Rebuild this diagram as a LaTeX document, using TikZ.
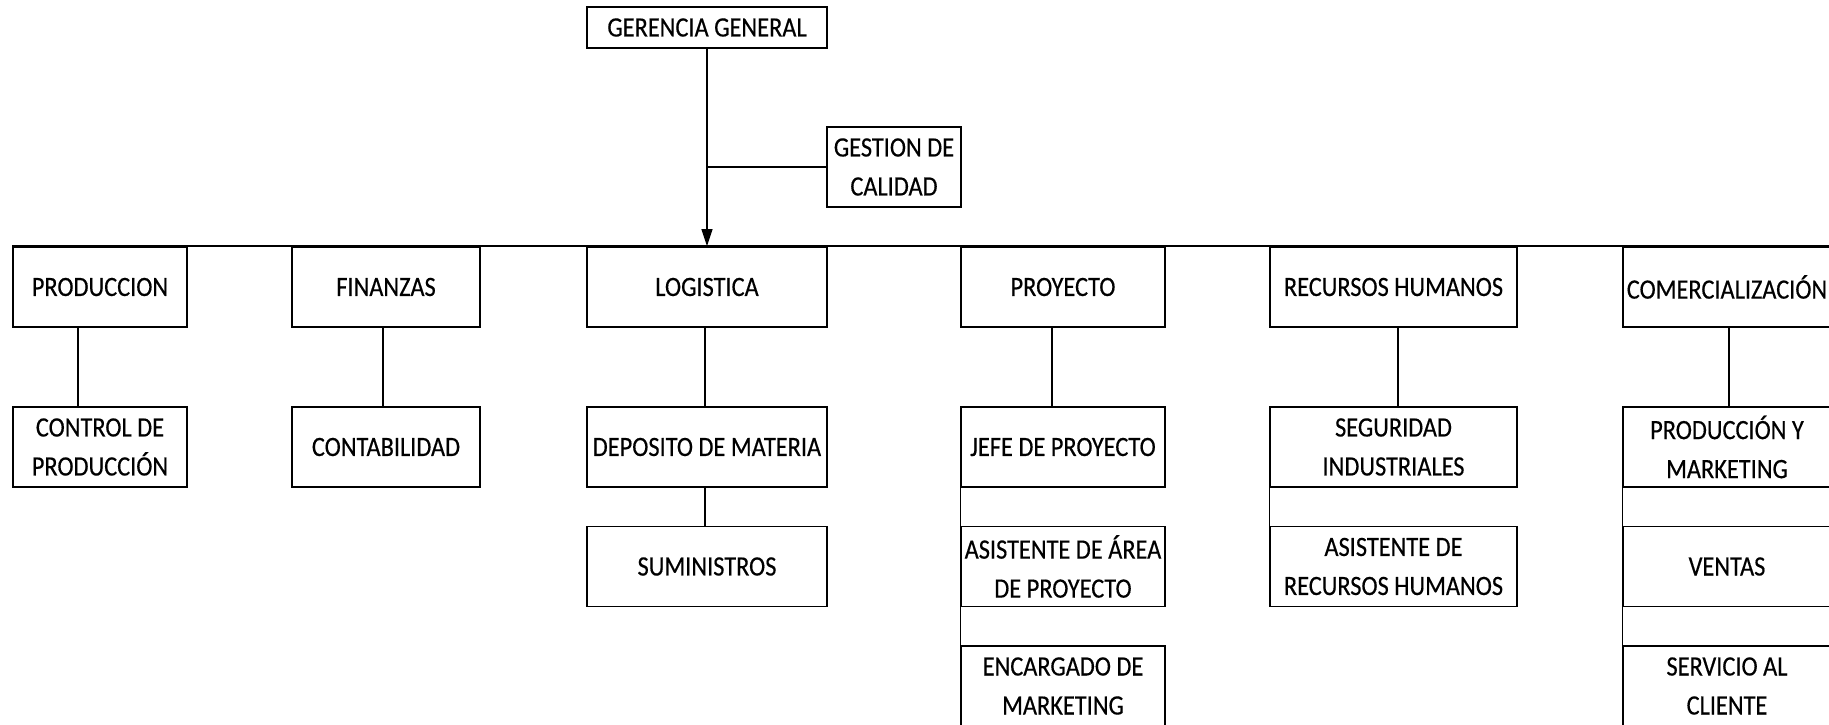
\documentclass[tikz,border=0pt]{standalone}
\usepackage{fontspec}
\setmainfont[FakeStretch=0.87,FakeBold=0.4]{Carlito}
\usetikzlibrary{arrows.meta}
\tikzset{
  orgbox/.style={draw=black, line width=1.6pt, inner sep=0pt, align=center,
    minimum height=80pt, font=\fontsize{28}{39}\selectfont},
  conn/.style={draw=black, line width=1.2pt},
  topline/.style={draw=black, line width=1.8pt},
}
\begin{document}
\begin{tikzpicture}[x=1pt,y=-1pt]
\useasboundingbox (0,0) rectangle (1829,724);
\fill[white] (0,0) rectangle (1829,724);
\clip (0,0) rectangle (1829,724);
% top
\node[orgbox, minimum width=240pt, minimum height=41pt] (ger) at (707,27.5) {GERENCIA GENERAL};
\node[orgbox, minimum width=134pt] (gest) at (894,167) {GESTION DE\\CALIDAD};
% level 1
\node[orgbox, minimum width=174pt] (prod) at (100,287) {PRODUCCION};
\node[orgbox, minimum width=188pt] (fin) at (386,287) {FINANZAS};
\node[orgbox, minimum width=240pt] (log) at (707,287) {LOGISTICA};
\node[orgbox, minimum width=204pt] (proy) at (1063,287) {PROYECTO};
\node[orgbox, minimum width=247pt] (rrhh) at (1393.5,287) {RECURSOS HUMANOS};
\node[orgbox, minimum width=208pt] (com) at (1727,287) {COMERCIALIZACIÓN};
% level 2
\node[orgbox, minimum width=174pt] (ctrl) at (100,447) {CONTROL DE\\PRODUCCIÓN};
\node[orgbox, minimum width=188pt] (cont) at (386,447) {CONTABILIDAD};
\node[orgbox, minimum width=240pt] (dep) at (707,447) {DEPOSITO DE MATERIA};
\node[orgbox, minimum width=204pt] (jefe) at (1063,447) {JEFE DE PROYECTO};
\node[orgbox, minimum width=247pt] (seg) at (1393.5,447) {SEGURIDAD\\INDUSTRIALES};
\node[orgbox, minimum width=208pt] (pym) at (1727,447) {PRODUCCIÓN Y\\MARKETING};
% level 3
\node[orgbox, minimum width=240pt] (sum) at (707,566.5) {SUMINISTROS};
\node[orgbox, minimum width=204pt] (asis) at (1063,566.5) {ASISTENTE DE ÁREA\\DE PROYECTO};
\node[orgbox, minimum width=247pt] (asrh) at (1393.5,566.5) {ASISTENTE DE\\RECURSOS HUMANOS};
\node[orgbox, minimum width=208pt] (ven) at (1727,566.5) {VENTAS};
% level 4
\node[orgbox, minimum width=204pt] (enc) at (1063,686) {ENCARGADO DE\\MARKETING};
\node[orgbox, minimum width=208pt] (serv) at (1727,686) {SERVICIO AL\\CLIENTE};
% connectors
\draw[topline] (prod.north west) -- (com.north east);
\draw[conn] (gest.west) -- (gest.west -| ger.south);
\draw[conn, -{Triangle[length=17pt,width=11pt]}] (ger.south) -- (log.north);
\draw[conn] ([xshift=-22pt]prod.south) -- ([xshift=-22pt]ctrl.north);
\draw[conn] ([xshift=-3pt]fin.south) -- ([xshift=-3pt]cont.north);
\draw[conn] ([xshift=-2pt]log.south) -- ([xshift=-2pt]dep.north);
\draw[conn] ([xshift=-2pt]dep.south) -- ([xshift=-2pt]sum.north);
\draw[conn] ([xshift=-11pt]proy.south) -- ([xshift=-11pt]jefe.north);
\draw[conn] ([xshift=4.5pt]rrhh.south) -- ([xshift=4.5pt]seg.north);
\draw[conn] ([xshift=2pt]com.south) -- ([xshift=2pt]pym.north);
\draw[conn] (jefe.south west) -- (asis.north west);
\draw[conn] (asis.south west) -- (enc.north west);
\draw[conn] (seg.south west) -- (asrh.north west);
\draw[conn] (pym.south west) -- (ven.north west);
\draw[conn] (ven.south west) -- (serv.north west);
\end{tikzpicture}
\end{document}
